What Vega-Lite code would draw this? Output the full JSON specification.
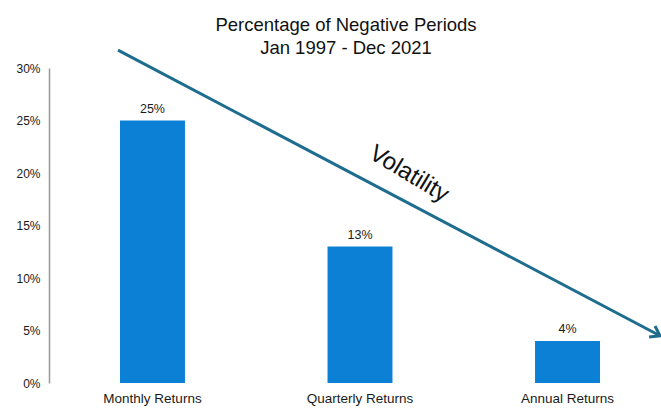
{
  "$schema": "https://vega.github.io/schema/vega-lite/v6.json",
  "width": 602,
  "height": 315,
  "autosize": {"type": "none"},
  "padding": {"left": 59, "top": 68, "right": 0, "bottom": 25},
  "background": "white",
  "config": {"view": {"stroke": null}, "font": "Liberation Sans"},
  "title": {
    "text": ["Percentage of Negative Periods", "Jan 1997 - Dec 2021"],
    "font": "Liberation Sans",
    "fontSize": 18.5,
    "fontWeight": "normal",
    "color": "#111",
    "lineHeight": 23,
    "anchor": "middle",
    "frame": "group",
    "offset": 18,
    "dx": -14,
    "dy": 31
  },
  "datasets": {
    "bars": [
      {"period": "Monthly Returns", "negative": 0.25},
      {"period": "Quarterly Returns", "negative": 0.13},
      {"period": "Annual Returns", "negative": 0.04}
    ],
    "arrow": [
      {"pos": 0.294, "level": 0.317},
      {"pos": 2.995, "level": 0.045}
    ],
    "note": [
      {"label": "Volatility", "pos": 1.744, "level": 0.199}
    ]
  },
  "layer": [
    {
      "data": {"name": "bars"},
      "encoding": {
        "x": {
          "field": "period",
          "type": "nominal",
          "sort": null,
          "scale": {"paddingInner": 0.687, "paddingOuter": 0.294},
          "axis": {
            "title": null,
            "labelAngle": 0,
            "ticks": false,
            "domain": false,
            "labelPadding": 8,
            "labelFontSize": 13.5,
            "labelColor": "#1a1a1a",
            "labelFont": "Liberation Sans"
          }
        },
        "y": {
          "field": "negative",
          "type": "quantitative",
          "scale": {"domain": [0, 0.3], "nice": false},
          "axis": {
            "title": null,
            "values": [0, 0.05, 0.1, 0.15, 0.2, 0.25, 0.3],
            "format": ".0%",
            "grid": false,
            "ticks": false,
            "offset": 10,
            "domainColor": "#999",
            "domainWidth": 1.5,
            "labelPadding": 9,
            "labelFontSize": 12,
            "labelColor": "#1a1a1a",
            "labelFont": "Liberation Sans"
          }
        }
      },
      "layer": [
        {"mark": {"type": "bar", "color": "#0B80D5"}},
        {
          "mark": {
            "type": "text",
            "baseline": "alphabetic",
            "dy": -8,
            "fontSize": 12.5,
            "color": "#1a1a1a",
            "font": "Liberation Sans"
          },
          "encoding": {"text": {"field": "negative", "type": "quantitative", "format": ".0%"}}
        },
        {
          "mark": {"type": "rule", "color": "#555", "strokeWidth": 1.5, "xOffset": -10},
          "encoding": {"y": {"datum": 0}}
        }
      ]
    },
    {
      "encoding": {
        "x": {
          "field": "pos",
          "type": "quantitative",
          "scale": {"domain": [0, 3], "nice": false, "zero": false},
          "axis": null
        },
        "y": {"field": "level", "type": "quantitative"}
      },
      "layer": [
        {
          "data": {"name": "arrow"},
          "mark": {"type": "line", "color": "#1E6D8F", "strokeWidth": 3, "clip": false}
        },
        {
          "data": {"name": "arrow"},
          "transform": [{"filter": "datum.pos > 2"}],
          "mark": {
            "type": "point",
            "shape": "M -1 -0.7 L 0 0 L -1 0.7",
            "filled": false,
            "stroke": "#1E6D8F",
            "strokeWidth": 3,
            "opacity": 1,
            "size": 324,
            "angle": 28,
            "clip": false
          }
        },
        {
          "data": {"name": "note"},
          "mark": {
            "type": "text",
            "angle": 31,
            "fontSize": 24,
            "align": "center",
            "baseline": "middle",
            "color": "#111",
            "font": "Liberation Sans"
          },
          "encoding": {"text": {"field": "label", "type": "nominal"}}
        }
      ]
    }
  ],
  "resolve": {"scale": {"x": "independent"}}
}
